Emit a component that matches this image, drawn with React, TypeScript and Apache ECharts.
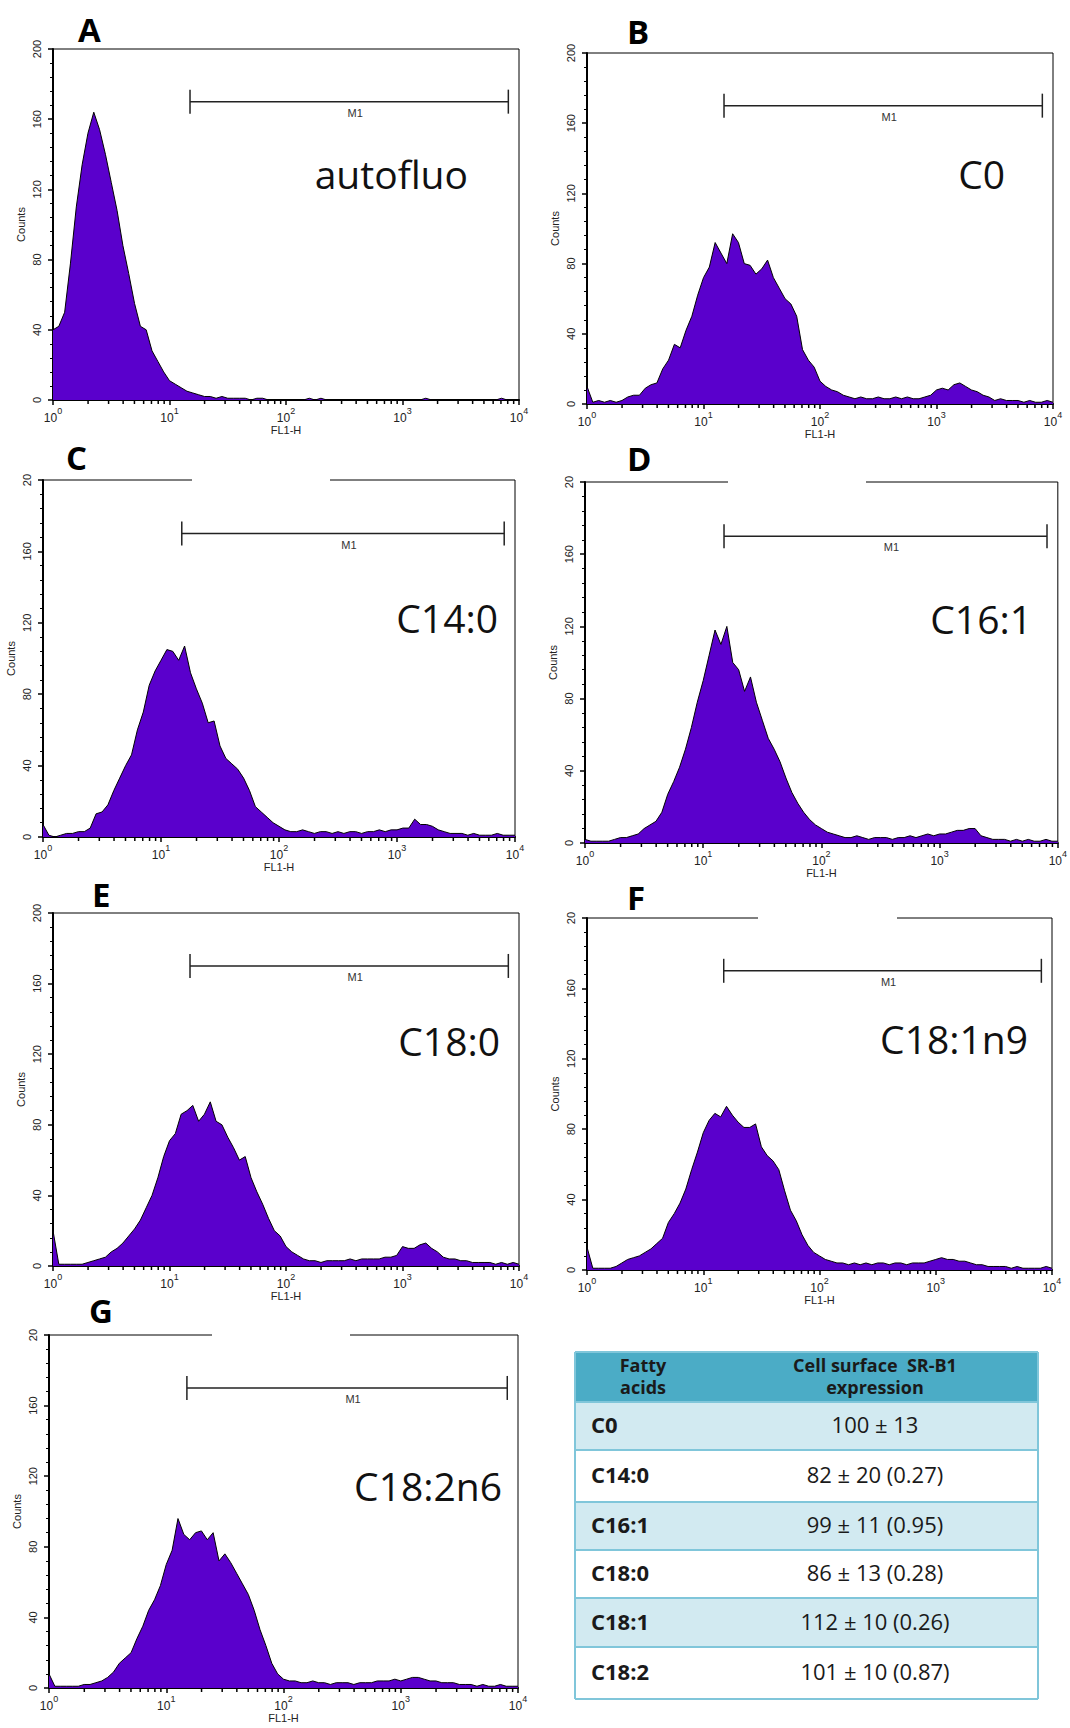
import React, { useEffect, useRef } from 'react';
import * as echarts from 'echarts';

// ---------- data ----------
// FL1-H channels: histogram bins every 0.05 decade from 10^0 to 10^4
const FL1_BINS: number[] = Array.from({ length: 81 }, (_, i) => Math.pow(10, i / 20));

const COUNTS_AUTOFLUO = [
  40, 42, 50, 78, 110, 134, 152, 164, 154, 140,
  124, 108, 88, 72, 55, 42, 40, 28, 22, 16,
  11, 9, 7, 5, 4, 3, 2, 2, 1, 2,
  1, 1, 1, 1, 0, 1, 1, 0, 0, 0,
  0, 0, 0, 0, 1, 0, 1, 0, 0, 0,
  0, 0, 0, 0, 0, 0, 0, 0, 0, 0,
  0, 0, 0, 0, 1, 0, 0, 0, 0, 0,
  0, 0, 0, 0, 0, 0, 0, 1, 0, 0,
  0,
];
const COUNTS_C0 = [
  10, 1, 2, 1, 2, 1, 2, 4, 5, 5,
  9, 11, 12, 20, 25, 34, 32, 42, 50, 62,
  72, 78, 92, 86, 80, 97, 92, 80, 79, 74,
  77, 82, 72, 66, 60, 57, 50, 31, 25, 21,
  13, 10, 8, 7, 5, 4, 3, 4, 3, 3,
  4, 3, 3, 4, 3, 4, 3, 3, 4, 5,
  8, 9, 8, 11, 12, 10, 8, 7, 5, 4,
  2, 3, 2, 2, 2, 1, 2, 1, 1, 2,
  1,
];
const COUNTS_C14_0 = [
  7, 1, 0, 1, 2, 2, 3, 3, 5, 13,
  14, 18, 26, 33, 40, 46, 60, 70, 85, 93,
  99, 105, 104, 99, 107, 92, 83, 75, 64, 65,
  51, 44, 41, 38, 33, 26, 17, 14, 11, 8,
  6, 4, 3, 3, 4, 3, 2, 3, 3, 2,
  3, 2, 3, 3, 2, 3, 3, 4, 3, 4,
  4, 5, 5, 10, 7, 7, 6, 4, 3, 2,
  2, 2, 1, 2, 1, 1, 1, 2, 1, 1,
  1,
];
const COUNTS_C16_1 = [
  2, 1, 1, 1, 1, 2, 3, 3, 4, 5,
  8, 10, 12, 17, 27, 34, 42, 52, 64, 78,
  90, 104, 118, 110, 120, 100, 96, 84, 92, 78,
  68, 58, 52, 45, 36, 28, 22, 17, 13, 10,
  8, 6, 5, 4, 3, 3, 4, 3, 2, 3,
  3, 3, 2, 3, 3, 4, 3, 4, 5, 4,
  5, 5, 6, 7, 7, 8, 8, 4, 3, 2,
  2, 2, 1, 2, 1, 2, 1, 1, 2, 1,
  1,
];
const COUNTS_C18_0 = [
  20, 1, 1, 1, 1, 1, 2, 3, 4, 5,
  8, 10, 13, 17, 21, 26, 33, 40, 50, 62,
  71, 75, 86, 88, 91, 82, 86, 93, 82, 80,
  73, 67, 60, 62, 50, 42, 35, 27, 20, 17,
  11, 8, 6, 4, 3, 3, 2, 3, 3, 3,
  3, 4, 3, 4, 4, 4, 4, 5, 5, 6,
  11, 10, 10, 12, 13, 10, 8, 5, 4, 4,
  3, 3, 2, 2, 2, 2, 1, 2, 1, 2,
  1,
];
const COUNTS_C18_1N9 = [
  13, 1, 1, 1, 1, 2, 4, 6, 7, 8,
  10, 12, 15, 18, 27, 32, 38, 46, 57, 67,
  78, 85, 89, 87, 93, 88, 84, 81, 81, 83,
  70, 65, 62, 57, 45, 34, 28, 20, 14, 10,
  8, 6, 5, 4, 4, 3, 4, 3, 4, 3,
  4, 4, 3, 4, 4, 3, 4, 4, 4, 5,
  6, 7, 6, 6, 5, 5, 4, 3, 3, 2,
  2, 2, 2, 1, 2, 1, 1, 1, 1, 2,
  1,
];
const COUNTS_C18_2N6 = [
  8, 1, 1, 1, 1, 1, 2, 2, 3, 4,
  6, 9, 14, 17, 20, 28, 35, 44, 50, 58,
  70, 78, 96, 87, 84, 88, 89, 84, 88, 72,
  76, 71, 65, 59, 53, 44, 33, 24, 14, 8,
  5, 4, 4, 3, 3, 4, 3, 3, 2, 3,
  3, 3, 2, 3, 3, 3, 4, 4, 4, 5,
  4, 5, 6, 6, 5, 4, 4, 3, 3, 3,
  2, 2, 2, 1, 2, 1, 1, 2, 1, 1,
  1,
];

// M1 marker gate (FL1-H start, end) and its height in counts
const M1_GATE = [15, 8100];
const M1_LEVEL = 170;

// log-axis minor tick positions
const X_MINOR_TICKS = [1, 10, 100, 1000].flatMap((d) => [2, 3, 4, 5, 6, 7, 8, 9].map((k) => k * d));

// table
const TABLE_HEAD_1 = ['Fatty', 'acids'];
const TABLE_HEAD_2 = ['Cell surface  SR-B1', 'expression'];
const TABLE_ACIDS = ['C0', 'C14:0', 'C16:1', 'C18:0', 'C18:1', 'C18:2'];
const TABLE_VALUES = ['100 ± 13', '82 ± 20 (0.27)', '99 ± 11 (0.95)', '86 ± 13 (0.28)', '112 ± 10 (0.26)', '101 ± 10 (0.87)'];

// ---------- layout ----------
const PANELS = [
  { letter: 'A', label: 'autofluo', counts: COUNTS_AUTOFLUO, left: 53, top: 49, width: 466, height: 351, lx: 78, ly: 29, tx: 468, ty: 173, topLabel: '200', gap: null as null | number[] },
  { letter: 'B', label: 'C0', counts: COUNTS_C0, left: 587, top: 53, width: 466, height: 351, lx: 627, ly: 31, tx: 1005, ty: 173, topLabel: '200', gap: null },
  { letter: 'C', label: 'C14:0', counts: COUNTS_C14_0, left: 43, top: 480, width: 472, height: 357, lx: 66, ly: 457, tx: 498, ty: 617, topLabel: '20', gap: [192, 330] },
  { letter: 'D', label: 'C16:1', counts: COUNTS_C16_1, left: 585, top: 482, width: 478, height: 361, lx: 627, ly: 458, tx: 1032, ty: 618, topLabel: '20', gap: [728, 866] },
  { letter: 'E', label: 'C18:0', counts: COUNTS_C18_0, left: 53, top: 913, width: 466, height: 353, lx: 92, ly: 894, tx: 500, ty: 1040, topLabel: '200', gap: null },
  { letter: 'F', label: 'C18:1n9', counts: COUNTS_C18_1N9, left: 587, top: 918, width: 465, height: 352, lx: 627, ly: 897, tx: 1028, ty: 1038, topLabel: '20', gap: [758, 897] },
  { letter: 'G', label: 'C18:2n6', counts: COUNTS_C18_2N6, left: 49, top: 1335, width: 469, height: 353, lx: 89, ly: 1310, tx: 502, ty: 1485, topLabel: '20', gap: [212, 350] },
];

const AXIS_FONT = '"Liberation Sans", Arial, sans-serif';
const LABEL_FONT = '"Open Sans", "Noto Sans", sans-serif';
const PURPLE = '#5a00cc';

const TABLE = {
  left: 575,
  right: 1038,
  headTop: 1352,
  rows: [1402, 1450, 1502, 1550, 1598, 1647, 1699],
  col1: 643,
  col2: 875,
  rowLabelX: 591,
};

function buildOption() {
  const grid: any[] = [];
  const xAxis: any[] = [];
  const yAxis: any[] = [];
  const series: any[] = [];
  const graphic: any[] = [];

  PANELS.forEach((p, i) => {
    grid.push({
      left: p.left, top: p.top, width: p.width, height: p.height,
      show: true, borderColor: '#000', borderWidth: 1, backgroundColor: 'transparent',
    });
    xAxis.push({
      type: 'log', logBase: 10, min: 1, max: 10000, gridIndex: i,
      name: 'FL1-H', nameLocation: 'middle', nameGap: 22,
      nameTextStyle: { fontSize: 11, fontFamily: AXIS_FONT, color: '#222' },
      axisLine: { show: true, onZero: false, lineStyle: { color: '#000', width: 2 } },
      axisTick: { show: true, length: 5, lineStyle: { color: '#000', width: 1.5 } },
      axisLabel: {
        margin: 6,
        formatter: (v: number) => `{b|10}{s|${Math.round(Math.log10(v))}}`,
        rich: {
          b: { fontSize: 12, lineHeight: 18, verticalAlign: 'bottom', fontFamily: AXIS_FONT, color: '#222' },
          s: { fontSize: 9, lineHeight: 10, verticalAlign: 'top', fontFamily: AXIS_FONT, color: '#222' },
        },
      },
      splitLine: { show: false },
    });
    yAxis.push({
      type: 'value', min: 0, max: 200, interval: 40, gridIndex: i,
      name: 'Counts', nameLocation: 'middle', nameGap: 27,
      nameTextStyle: { fontSize: 11, fontFamily: AXIS_FONT, color: '#222' },
      axisLine: { show: true, lineStyle: { color: '#000', width: 2 } },
      axisTick: { show: true, length: 5, lineStyle: { color: '#000', width: 1.5 } },
      minorTick: { show: true, splitNumber: 5, length: 3, lineStyle: { color: '#000', width: 1 } },
      axisLabel: {
        rotate: 90, margin: 11, fontSize: 11, fontFamily: AXIS_FONT, color: '#222',
        formatter: (v: number) => (v === 200 ? p.topLabel : String(v)),
      },
      splitLine: { show: false },
    });
    series.push({
      type: 'line', xAxisIndex: i, yAxisIndex: i,
      data: FL1_BINS.map((x, k) => [x, p.counts[k]]),
      symbol: 'none', showSymbol: false,
      lineStyle: { color: '#000', width: 1 },
      areaStyle: { color: PURPLE, opacity: 1 },
      z: 2,
    });
    series.push({
      type: 'custom', xAxisIndex: i, yAxisIndex: i, silent: true, clip: false, z: 4,
      data: X_MINOR_TICKS.map((v) => [v, 0]),
      encode: { x: 0, y: 1 },
      renderItem: (_params: any, api: any) => {
        const pt = api.coord([api.value(0), 0]);
        return {
          type: 'line',
          shape: { x1: pt[0], y1: pt[1] + 1, x2: pt[0], y2: pt[1] + 4 },
          style: { stroke: '#000', lineWidth: 1.5 },
        };
      },
    });
    series.push({
      type: 'custom', xAxisIndex: i, yAxisIndex: i, silent: true, clip: false, z: 5,
      data: [[M1_GATE[0], M1_GATE[1], M1_LEVEL]],
      encode: { x: [0, 1], y: 2 },
      renderItem: (_params: any, api: any) => {
        const a = api.coord([api.value(0), api.value(2)]);
        const b = api.coord([api.value(1), api.value(2)]);
        const st = { stroke: '#222', lineWidth: 1.5 };
        return {
          type: 'group',
          children: [
            { type: 'line', shape: { x1: a[0], y1: a[1], x2: b[0], y2: b[1] }, style: st },
            { type: 'line', shape: { x1: a[0], y1: a[1] - 12, x2: a[0], y2: a[1] + 12 }, style: st },
            { type: 'line', shape: { x1: b[0], y1: b[1] - 12, x2: b[0], y2: b[1] + 12 }, style: st },
            {
              type: 'text', x: (a[0] + b[0]) / 2 + 6, y: a[1] + 11,
              style: { text: 'M1', fontSize: 11, fontFamily: AXIS_FONT, fill: '#333', align: 'center', verticalAlign: 'middle' },
            },
          ],
        };
      },
    });

    graphic.push({
      type: 'text', x: p.lx, y: p.ly, z: 100,
      style: { text: p.letter, fontSize: 33, fontWeight: 'bold', fontFamily: LABEL_FONT, fill: '#000', align: 'left', verticalAlign: 'middle' },
    });
    graphic.push({
      type: 'text', x: p.tx, y: p.ty, z: 100,
      style: { text: p.label, fontSize: 39, fontFamily: LABEL_FONT, fill: '#111', align: 'right', verticalAlign: 'middle' },
    });
    if (p.gap) {
      graphic.push({
        type: 'rect', z: 100,
        shape: { x: p.gap[0], y: p.top - 2, width: p.gap[1] - p.gap[0], height: 4 },
        style: { fill: '#fff' },
      });
    }
  });

  // ---- table ----
  const T = TABLE;
  const tw = T.right - T.left;
  graphic.push({
    type: 'rect', z: 90,
    shape: { x: T.left, y: T.headTop, width: tw, height: T.rows[0] - T.headTop },
    style: { fill: '#4bacc6' },
  });
  for (let r = 0; r < T.rows.length - 1; r++) {
    graphic.push({
      type: 'rect', z: 90,
      shape: { x: T.left, y: T.rows[r], width: tw, height: T.rows[r + 1] - T.rows[r] },
      style: { fill: r % 2 === 0 ? '#d2eaf1' : '#ffffff' },
    });
  }
  [T.headTop, ...T.rows].forEach((y) => {
    graphic.push({
      type: 'line', z: 95,
      shape: { x1: T.left, y1: y, x2: T.right, y2: y },
      style: { stroke: '#80c6da', lineWidth: 2 },
    });
  });
  [T.left, T.right].forEach((x) => {
    graphic.push({
      type: 'line', z: 95,
      shape: { x1: x, y1: T.headTop, x2: x, y2: T.rows[T.rows.length - 1] },
      style: { stroke: '#80c6da', lineWidth: 2 },
    });
  });
  const headStyle = { fontSize: 18, fontWeight: 'bold', fontFamily: LABEL_FONT, fill: '#1a1a1a', align: 'center', verticalAlign: 'middle' };
  TABLE_HEAD_1.forEach((t, k) => {
    graphic.push({ type: 'text', z: 100, x: T.col1, y: 1365 + k * 22, style: { ...headStyle, text: t } });
  });
  TABLE_HEAD_2.forEach((t, k) => {
    graphic.push({ type: 'text', z: 100, x: T.col2, y: 1365 + k * 22, style: { ...headStyle, text: t } });
  });
  TABLE_ACIDS.forEach((t, r) => {
    const cy = (T.rows[r] + T.rows[r + 1]) / 2;
    graphic.push({
      type: 'text', z: 100, x: T.rowLabelX, y: cy - 2,
      style: { text: t, fontSize: 22, fontWeight: 'bold', fontFamily: LABEL_FONT, fill: '#1a1a1a', align: 'left', verticalAlign: 'middle' },
    });
    graphic.push({
      type: 'text', z: 100, x: T.col2, y: cy - 2,
      style: { text: TABLE_VALUES[r], fontSize: 22, fontFamily: LABEL_FONT, fill: '#1a1a1a', align: 'center', verticalAlign: 'middle' },
    });
  });

  return {
    animation: false,
    backgroundColor: '#ffffff',
    grid, xAxis, yAxis, series, graphic,
  };
}

export default function App() {
  const ref = useRef<HTMLDivElement>(null);
  useEffect(() => {
    if (!ref.current) return;
    const chart = echarts.init(ref.current, null, { renderer: 'svg' });
    chart.setOption(buildOption() as any);
    return () => chart.dispose();
  }, []);
  return (
    <div
      ref={ref}
      style={{ position: 'absolute', left: 0, top: 0, width: 1070, height: 1728, background: '#fff' }}
    />
  );
}
